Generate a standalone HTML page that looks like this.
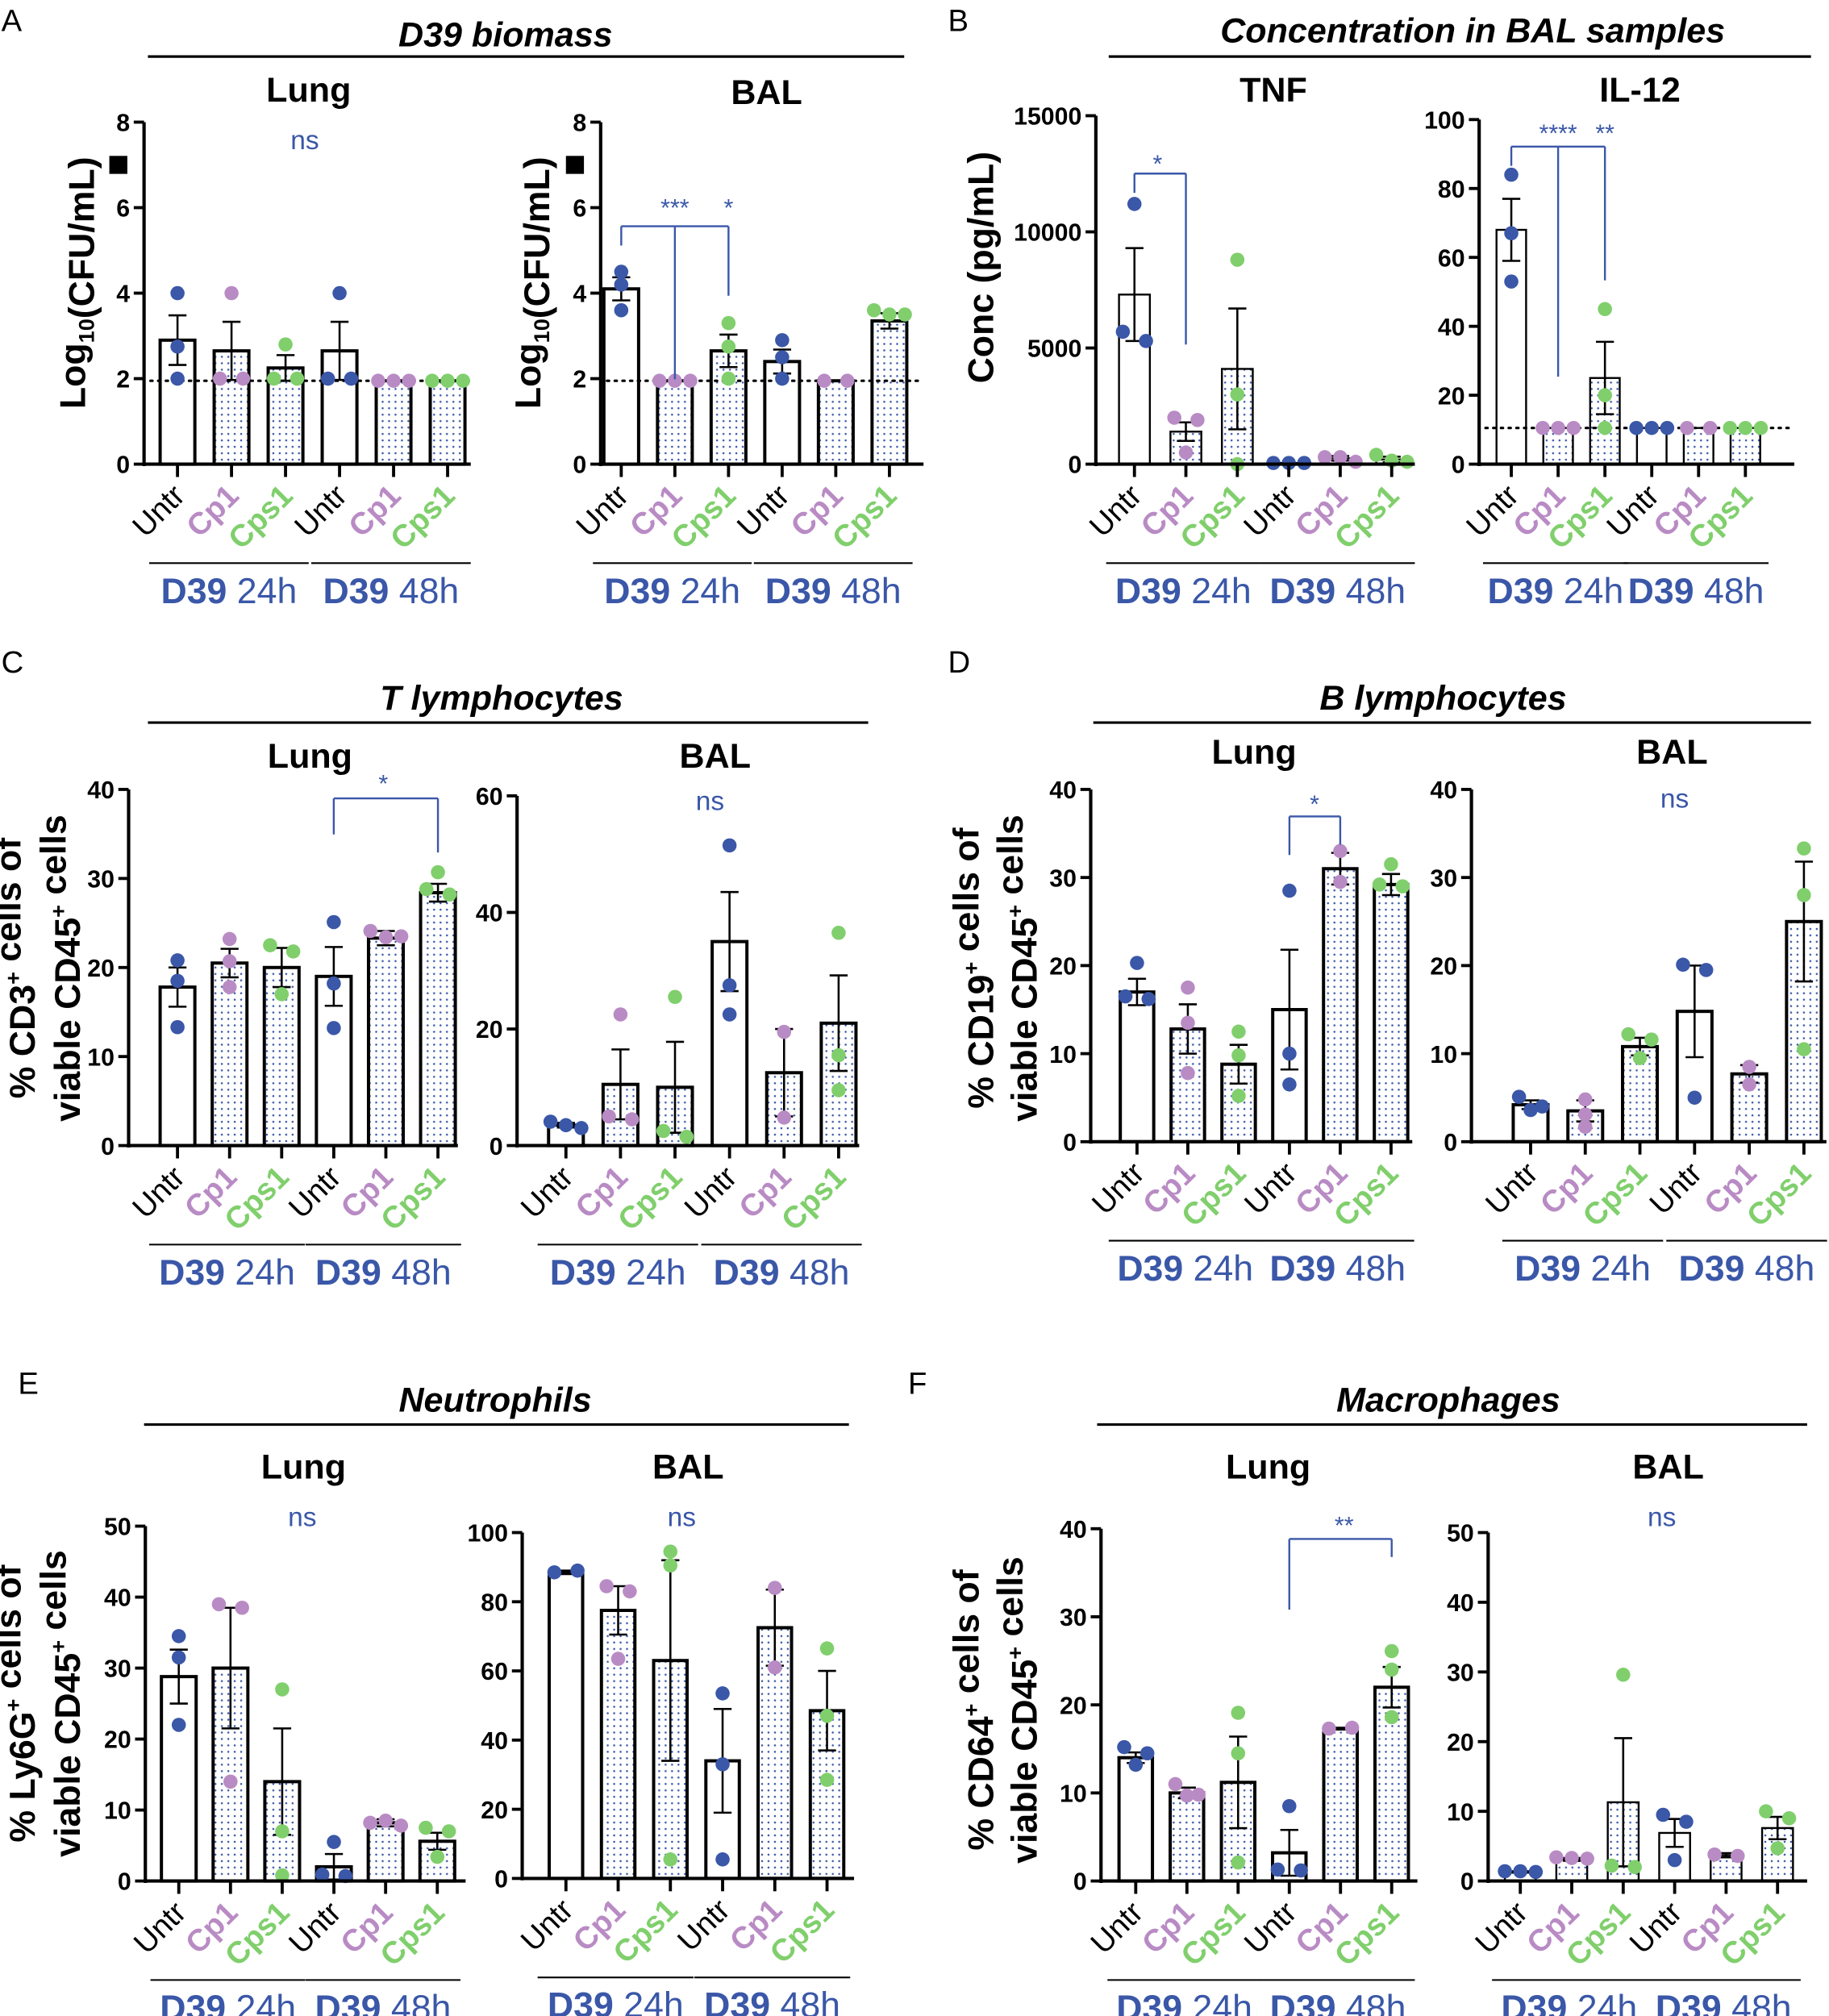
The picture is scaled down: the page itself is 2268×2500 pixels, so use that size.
<!DOCTYPE html>
<html><head><meta charset="utf-8"><style>
html,body{margin:0;padding:0;background:#fff}
svg{display:block}
text{font-family:"Liberation Sans",Arial,sans-serif}
</style></head><body>
<svg id="fig" width="2268" height="2500" viewBox="0 0 1422 1568" preserveAspectRatio="none" xmlns="http://www.w3.org/2000/svg">
<defs>
<pattern id="dots" width="5" height="5" patternUnits="userSpaceOnUse">
<rect width="5" height="5" fill="#fff"/><circle cx="2.5" cy="2.5" r="0.8" fill="#3a57a8"/>
</pattern>
</defs>
<g id="static" font-weight="bold">
<text x="1" y="24" font-size="24" font-weight="normal">A</text>
<text x="737" y="24" font-size="24" font-weight="normal">B</text>
<text x="1" y="523" font-size="24" font-weight="normal">C</text>
<text x="737" y="523" font-size="24" font-weight="normal">D</text>
<text x="14" y="1084" font-size="24" font-weight="normal">E</text>
<text x="706" y="1084" font-size="24" font-weight="normal">F</text>
<text x="393" y="36" font-size="27" font-style="italic" text-anchor="middle">D39 biomass</text>
<line x1="115" y1="44" x2="703" y2="44" stroke="#000" stroke-width="2"/>
<text x="1145" y="33" font-size="27" font-style="italic" text-anchor="middle">Concentration in BAL samples</text>
<line x1="862" y1="44" x2="1408" y2="44" stroke="#000" stroke-width="2"/>
<text x="390" y="552" font-size="27" font-style="italic" text-anchor="middle">T lymphocytes</text>
<line x1="115" y1="562" x2="675" y2="562" stroke="#000" stroke-width="2"/>
<text x="1122" y="552" font-size="27" font-style="italic" text-anchor="middle">B lymphocytes</text>
<line x1="850" y1="562" x2="1408" y2="562" stroke="#000" stroke-width="2"/>
<text x="385" y="1098" font-size="27" font-style="italic" text-anchor="middle">Neutrophils</text>
<line x1="112" y1="1108" x2="660" y2="1108" stroke="#000" stroke-width="2"/>
<text x="1126" y="1098" font-size="27" font-style="italic" text-anchor="middle">Macrophages</text>
<line x1="853" y1="1108" x2="1405" y2="1108" stroke="#000" stroke-width="2"/>
</g>
<g id="plots"></g>
</svg>
<script>
// ---- data arrays ----
const groups = ["Untr","Cp1","Cps1","Untr","Cp1","Cps1"];
const timeLabels = ["24h","48h"];
const aLungMeans=[2.9,2.65,2.25,2.65,1.95,1.95];
const aLungErr=[0.58,0.68,0.3,0.68,0,0];
const aLungPts=[[4,2.75,2],[4,2,2],[2.8,2,2],[4,2,2],[1.95,1.95,1.95],[1.95,1.95,1.95]];
const aBalMeans=[4.1,1.95,2.65,2.4,1.95,3.35];
const aBalErr=[0.27,0,0.38,0.28,0,0.18];
const aBalPts=[[4.5,4.2,3.6],[1.95,1.95,1.95],[3.3,2.75,2],[2.9,2.5,2],[1.95,1.95],[3.6,3.5,3.5]];
const tnfMeans=[7300,1400,4100,50,250,200];
const tnfErr=[2000,400,2600,0,100,120];
const tnfPts=[[11200,5700,5300],[2000,1900,500],[8800,3000,0],[50,50,50],[300,300,100],[400,150,100]];
const il12Means=[68,10.5,25,10.5,10.5,10.5];
const il12Err=[9,0,10.5,0,0,0];
const il12Pts=[[84,67,53],[10.5,10.5,10.5],[45,20,10.5],[10.5,10.5,10.5],[10.5,10.5],[10.5,10.5,10.5]];
const cLungMeans=[17.8,20.5,20,19,23.3,28.4];
const cLungErr=[2.2,1.6,2.2,3.3,0.8,1];
const cLungPts=[[20.8,18.5,13.3],[23.2,20.7,17.8],[22.5,21.8,17],[25.1,18.2,13.2],[24.1,23.4,23.5],[30.7,28.8,28.2]];
const cBalMeans=[3.5,10.5,10,35,12.5,21];
const cBalErr=[0.4,6,7.8,8.5,7.5,8.2];
const cBalPts=[[4.1,3.5,3.0],[22.5,5,4.5],[25.5,2.5,1.5],[51.5,27.5,22.5],[19.5,4.8],[36.5,15.5,9.5]];
const dLungMeans=[17,12.8,8.8,15,31,29.2];
const dLungErr=[1.5,2.8,2.2,6.8,1.8,1.2];
const dLungPts=[[20.3,16.5,16.2],[17.5,13.5,7.8],[12.5,9.8,5.2],[28.5,10,6.5],[33,29.5],[31.5,29.2,29.0]];
const dBalMeans=[4.2,3.5,10.8,14.8,7.7,25];
const dBalErr=[0.5,1.2,1,5.2,1,6.8];
const dBalPts=[[5.1,4,3.6],[4.8,3.1,1.7],[12.2,11.6,9.5],[20.1,19.5,5],[8.5,6.5],[33.3,28,10.5]];
const eLungMeans=[28.8,30,14,2,8.2,5.6];
const eLungErr=[3.8,8.5,7.5,1.8,0.5,1.2];
const eLungPts=[[34.5,31.5,22],[39,38.5,14],[27,7,0.8],[5.5,0.9,0.7],[8.2,8.5,7.8],[7.5,7,3.4]];
const eBalMeans=[88.5,77.5,63,34,72.5,48.5];
const eBalErr=[0.5,7,29,15,11,11.5];
const eBalPts=[[88.5,89],[84.5,83,63.5],[94.5,90.5,5.5],[53.5,33,5.5],[84,61],[66.5,47,28.5]];
const fLungMeans=[14,10,11.2,3.2,17.3,22];
const fLungErr=[0.6,0.6,5.2,2.6,0.1,2.3];
const fLungPts=[[15.2,14.5,13.2],[11,9.8,9.7],[19.1,14.5,2.1],[8.5,1.3,1.2],[17.3,17.4],[26.1,24,18.6]];
const fBalMeans=[1.3,3.1,11.3,6.9,3.7,7.6];
const fBalErr=[0.1,0.2,9.2,2,0.3,1.6];
const fBalPts=[[1.4,1.4,1.3],[3.4,3.3,3.2],[29.6,2.2,2],[9.5,8.5,3],[3.8,3.6],[10,9,4.7]];
const aTicks=[0,2,4,6,8], tnfTicks=[0,5000,10000,15000], il12Ticks=[0,20,40,60,80,100];
const t40=[0,10,20,30,40], t60=[0,20,40,60], t50=[0,10,20,30,40,50], t100=[0,20,40,60,80,100];

// ---- layout configs ----
const panels=[
 {name:"a-lung",sub:"Lung",sx:240,sy:79,ax:112,x1:366,yb:361,yt:95,max:8,ticks:aTicks,c0:138,step:42,bw:27,sw:2.5,means:aLungMeans,err:aLungErr,pts:aLungPts,dotted:1.95,sq:7,ns:[237,116]},
 {name:"a-bal",sub:"BAL",sx:596,sy:81,ax:467,x1:718,yb:361,yt:95,max:8,ticks:aTicks,c0:483,step:41.7,bw:27,sw:2.5,means:aBalMeans,err:aBalErr,pts:aBalPts,dotted:1.95,sq:7,
  br:{y:176,from:0,to:[[1,295,"***"],[2,230,"*"]],ly:168}},
 {name:"b-tnf",sub:"TNF",sx:990,sy:79,ax:852,x1:1100,yb:361,yt:90,max:15000,ticks:tnfTicks,c0:882,step:40,bw:24,sw:1.5,means:tnfMeans,err:tnfErr,pts:tnfPts,
  br:{y:135,from:0,to:[[1,268,"*"]],ly:134,lx:900}},
 {name:"b-il12",sub:"IL-12",sx:1275,sy:79,ax:1150,x1:1395,yb:361,yt:93,max:100,ticks:il12Ticks,c0:1175,step:36.4,bw:23,sw:1.5,means:il12Means,err:il12Err,pts:il12Pts,dotted:10.5,
  br:{y:114,from:0,to:[[1,293,"****"],[2,218,"**"]],ly:110}},
 {name:"c-lung",sub:"Lung",sx:241,sy:597,ax:100,x1:356,yb:891,yt:614,max:40,ticks:t40,c0:138,step:40.5,bw:27,sw:2.5,means:cLungMeans,err:cLungErr,pts:cLungPts,
  br:{y:621,from:3,to:[[5,663,"*"]],ly:616,lx:298,fromDown:649}},
 {name:"c-bal",sub:"BAL",sx:556,sy:597,ax:402,x1:668,yb:891,yt:619,max:60,ticks:t60,c0:440,step:42.4,bw:27,sw:2.5,means:cBalMeans,err:cBalErr,pts:cBalPts,ns:[552,630]},
 {name:"d-lung",sub:"Lung",sx:975,sy:594,ax:848,x1:1098,yb:888,yt:614,max:40,ticks:t40,c0:884,step:39.5,bw:26,sw:2.5,means:dLungMeans,err:dLungErr,pts:dLungPts,
  br:{y:635,from:3,to:[[4,657,"*"]],ly:632,lx:1022,fromDown:665}},
 {name:"d-bal",sub:"BAL",sx:1300,sy:594,ax:1144,x1:1420,yb:888,yt:614,max:40,ticks:t40,c0:1190,step:42.5,bw:27,sw:2.5,means:dBalMeans,err:dBalErr,pts:dBalPts,ns:[1302,628]},
 {name:"e-lung",sub:"Lung",sx:236,sy:1150,ax:113,x1:362,yb:1463,yt:1187,max:50,ticks:t50,c0:139,step:40.2,bw:27,sw:2.5,means:eLungMeans,err:eLungErr,pts:eLungPts,ns:[235,1187]},
 {name:"e-bal",sub:"BAL",sx:535,sy:1150,ax:406,x1:664,yb:1461,yt:1192,max:100,ticks:t100,c0:440,step:40.6,bw:26,sw:2.5,means:eBalMeans,err:eBalErr,pts:eBalPts,ns:[530,1187]},
 {name:"f-lung",sub:"Lung",sx:986,sy:1150,ax:856,x1:1102,yb:1463,yt:1189,max:40,ticks:t40,c0:883,step:39.8,bw:26,sw:2.5,means:fLungMeans,err:fLungErr,pts:fLungPts,
  br:{y:1197,from:3,to:[[5,1211,"**"]],ly:1193,lx:1045,fromDown:1252}},
 {name:"f-bal",sub:"BAL",sx:1297,sy:1150,ax:1157,x1:1405,yb:1463,yt:1192,max:50,ticks:t50,c0:1182,step:40,bw:24,sw:1.5,means:fBalMeans,err:fBalErr,pts:fBalPts,ns:[1292,1187]}
];
const ylabels=[
 {x:66,y:220,lines:[["Log",["10","sub"],"(CFU/mL)"]],n:"a-lung-y-title"},
 {x:420,y:220,lines:[["Log",["10","sub"],"(CFU/mL)"]],n:"a-bal-y-title"},
 {x:772,y:208,lines:[["Conc (pg/mL)"]],n:"b-y-title"},
 {x:27,y:753,lines:[["% CD3",["+","sup"]," cells of"]],n:"c-y-title-1"},
 {x:62,y:753,lines:[["viable CD45",["+","sup"]," cells"]],n:"c-y-title-2"},
 {x:772,y:753,lines:[["% CD19",["+","sup"]," cells of"]],n:"d-y-title-1"},
 {x:806,y:753,lines:[["viable CD45",["+","sup"]," cells"]],n:"d-y-title-2"},
 {x:27,y:1325,lines:[["% Ly6G",["+","sup"]," cells of"]],n:"e-y-title-1"},
 {x:62,y:1325,lines:[["viable CD45",["+","sup"]," cells"]],n:"e-y-title-2"},
 {x:772,y:1330,lines:[["% CD64",["+","sup"]," cells of"]],n:"f-y-title-1"},
 {x:806,y:1330,lines:[["viable CD45",["+","sup"]," cells"]],n:"f-y-title-2"}
];
const NS="http://www.w3.org/2000/svg";
const root=document.getElementById("plots");
const COL=["#3a57a8","#b98bc4","#80cf6c"];
const BLUE="#3a57a8";
function mk(tag,attrs,parent){const e=document.createElementNS(NS,tag);for(const k in attrs)e.setAttribute(k,attrs[k]);(parent||root).appendChild(e);return e;}
function fmt(v){return String(v);}

panels.forEach(p=>{
  const g=mk("g",{});
  
  
  const Y=v=>p.yb-v/p.max*(p.yb-p.yt);
  const X=i=>p.c0+i*p.step;
  const st=mk("text",{x:p.sx,y:p.sy,"font-size":27,"font-weight":"bold","text-anchor":"middle"},g);
  st.textContent=p.sub;
  
  
  p.means.forEach((m,i)=>{
    const r=mk("rect",{x:X(i)-p.bw/2,y:Y(m),width:p.bw,height:p.yb-Y(m),fill:(i%3===0)?"#fff":"url(#dots)",stroke:"#000","stroke-width":p.sw},g);
    
    
  });
  if(p.dotted!==undefined){
    const l=mk("line",{x1:p.ax+5,x2:p.x1,y1:Y(p.dotted),y2:Y(p.dotted),stroke:"#000","stroke-width":2,"stroke-dasharray":"1.5 4.5","stroke-linecap":"round"},g);
    
    
  }
  p.means.forEach((m,i)=>{
    const e=p.err[i]; if(e<=0) return;
    const cx=X(i);
    const eg=mk("g",{stroke:"#000","stroke-width":1.6},g);
    
    
    mk("line",{x1:cx,x2:cx,y1:Y(m+e),y2:Y(Math.max(0,m-e))},eg);
    mk("line",{x1:cx-7,x2:cx+7,y1:Y(m+e),y2:Y(m+e)},eg);
    mk("line",{x1:cx-7,x2:cx+7,y1:Y(Math.max(0,m-e)),y2:Y(Math.max(0,m-e))},eg);
  });
  const tol=p.max*0.03;
  p.pts.forEach((arr,i)=>{
    const used=arr.map(()=>false);
    arr.forEach((v,j)=>{
      if(used[j])return;
      const grp=[];arr.forEach((w,k)=>{if(!used[k]&&Math.abs(w-v)<=tol){grp.push(k);used[k]=true;}});
      const offs=grp.length===1?[0]:grp.length===2?[-9,9]:[-12,0,12];
      grp.forEach((k,q)=>{
        const c=mk("circle",{cx:X(i)+offs[q],cy:Y(arr[k]),r:5.5,fill:COL[i%3]},g);
        
        
      });
    });
  });
  const ya=mk("line",{x1:p.ax,x2:p.ax,y1:p.yt,y2:p.yb+1.5,stroke:"#000","stroke-width":2.6},g);
  
  
  const xa=mk("line",{x1:p.ax-1.3,x2:p.x1,y1:p.yb,y2:p.yb,stroke:"#000","stroke-width":2.6},g);
  
  
  p.ticks.forEach(t=>{
    mk("line",{x1:p.ax-8,x2:p.ax,y1:Y(t),y2:Y(t),stroke:"#000","stroke-width":2.4},g);
    const tl=mk("text",{x:p.ax-11,y:Y(t)+7,"font-size":19,"font-weight":"bold","text-anchor":"end"},g);
    tl.textContent=fmt(t);
    
    
  });
  groups.forEach((gname,i)=>{
    mk("line",{x1:X(i),x2:X(i),y1:p.yb,y2:p.yb+10,stroke:"#000","stroke-width":2.4},g);
    const tx=X(i)+7,ty=p.yb+26;
    const xl=mk("text",{x:tx,y:ty,"font-size":24,"text-anchor":"end",fill:i%3===0?"#000":COL[i%3],"font-weight":i%3===0?"normal":"bold",transform:`rotate(-45 ${tx} ${ty})`},g);
    xl.textContent=gname;
    
    
  });
  [0,1].forEach(k=>{
    const a=X(k*3)-22,b=X(k*3+2)+18;
    mk("line",{x1:a,x2:b,y1:p.yb+77,y2:p.yb+77,stroke:"#000","stroke-width":1.3},g);
    const gt=mk("text",{x:(a+b)/2,y:p.yb+108,"font-size":28,"text-anchor":"middle",fill:BLUE},g);
    
    
    const t1=mk("tspan",{"font-weight":"bold"},gt);t1.textContent="D39";
    const t2=mk("tspan",{},gt);t2.textContent=" "+timeLabels[k];
  });
  if(p.sq!==undefined){
    const s=mk("rect",{x:p.ax-27,y:Y(p.sq)-7,width:14,height:14,fill:"#000"},g);
    
    
  }
  if(p.ns){
    const n=mk("text",{x:p.ns[0],y:p.ns[1],"font-size":21,"text-anchor":"middle",fill:BLUE},g);
    n.textContent="ns";
    
    
  }
  if(p.br){
    const b=p.br;
    const bg=mk("g",{stroke:BLUE,"stroke-width":1.5,fill:"none"},g);
    
    
    const last=b.to[b.to.length-1][0];
    mk("line",{x1:X(b.from),x2:X(last),y1:b.y,y2:b.y},bg);
    mk("line",{x1:X(b.from),x2:X(b.from),y1:b.y,y2:b.fromDown||b.y+15},bg);
    b.to.forEach(([idx,yd,lab])=>{
      mk("line",{x1:X(idx),x2:X(idx),y1:b.y,y2:yd},bg);
      const lx=(b.to.length===1&&b.lx)?b.lx:X(idx);
      const st=mk("text",{x:lx,y:b.ly,"font-size":19,"text-anchor":"middle",fill:BLUE,stroke:"none"},g);
      st.textContent=lab;
      
      
    });
  }
});
ylabels.forEach(l=>{
  const t=mk("text",{x:l.x,y:l.y,"font-size":28,"font-weight":"bold","text-anchor":"middle",transform:`rotate(-90 ${l.x} ${l.y})`});
  
  
  l.lines[0].forEach(part=>{
    if(typeof part==="string"){const s=mk("tspan",{},t);s.textContent=part;}
    else{const s=mk("tspan",{"font-size":17,"dy":part[1]==="sub"?7:-11},t);s.textContent=part[0];
      const r=mk("tspan",{"dy":part[1]==="sub"?-7:11},t);r.textContent="";}
  });
});
</script>
</body></html>
